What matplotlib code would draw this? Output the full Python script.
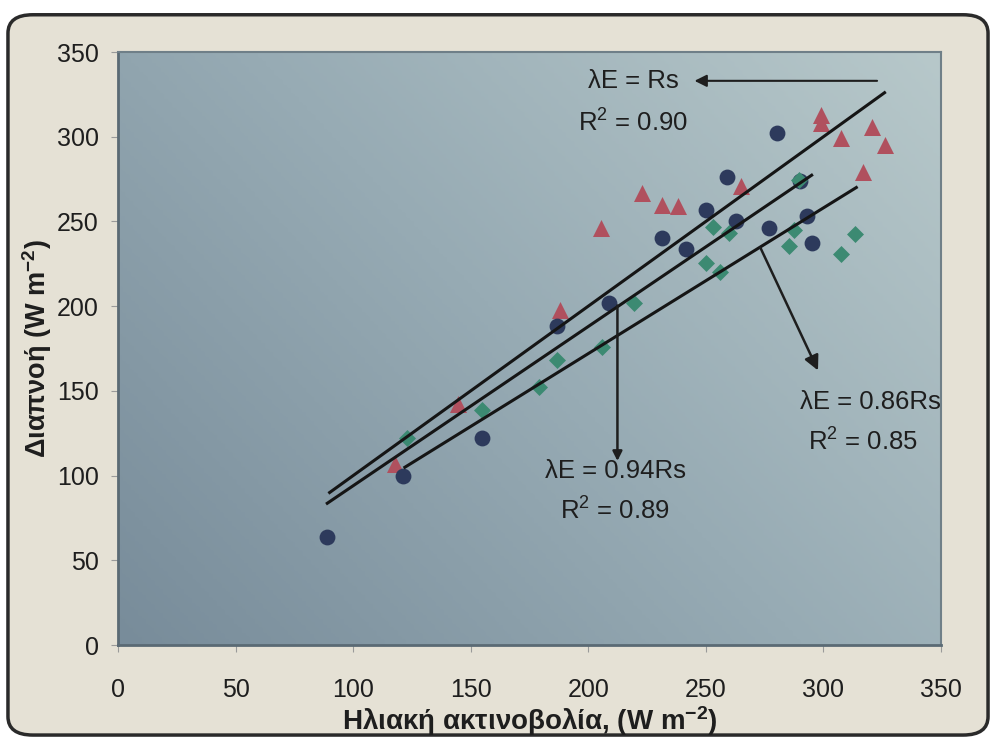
import matplotlib.pyplot as plt
import numpy as np
from matplotlib.colors import LinearSegmentedColormap
from matplotlib.patches import FancyBboxPatch

plt.rcParams['font.family'] = ['Liberation Sans', 'DejaVu Sans']
plt.rcParams['mathtext.fontset'] = 'custom'
plt.rcParams['mathtext.rm'] = 'Liberation Sans'
plt.rcParams['mathtext.it'] = 'Liberation Sans'
plt.rcParams['mathtext.bf'] = 'Liberation Sans:bold'

# circles (dark blue)
circ_x = [89, 121, 154.6, 186.5, 209, 231.5, 241.7, 250, 259, 263, 277, 280.3, 290, 293, 295]
circ_y = [64, 100, 122, 188, 202, 240, 234, 257, 276, 250, 246, 302, 274, 253, 237]
# triangles (red)
tri_x = [117.7, 144.5, 187.8, 205.5, 223, 231.5, 238, 265, 299, 299, 307.5, 317, 320.7, 326]
tri_y = [107, 142, 198, 246, 267, 260, 259, 271, 313, 308, 299, 279, 306, 295]
# diamonds (green)
dia_x = [122.7, 154.6, 179, 186.5, 206, 219.6, 250, 253, 256, 260, 285.5, 287.6, 289.7, 307.5, 313.5]
dia_y = [122, 139, 152, 168, 176, 202, 225.5, 247, 220, 243, 235.5, 245, 274.5, 231, 242.6]

# regression lines lambdaE = k * Rs
slopes = [1.0, 0.94, 0.86]
x_start = [90, 89, 122]
x_end = [326, 295, 314]

ticks = [0, 50, 100, 150, 200, 250, 300, 350]

fig = plt.figure(figsize=(9.95, 7.38), dpi=100)
fig.patch.set_facecolor('white')
frame = FancyBboxPatch((0.008, 0.004), 0.985, 0.976, boxstyle='round,pad=0,rounding_size=0.025',
                       transform=fig.transFigure, facecolor='#e5e1d5', edgecolor='#2a2a2a',
                       linewidth=2.5, zorder=-10)
fig.patches.append(frame)

ax = fig.add_axes([0.1186, 0.126, 0.8271, 0.8035])
ax.set_facecolor('#9aaeb6')

# background gradient of the plot area
u = np.linspace(0, 1, 200)
v = np.linspace(0, 1, 200)
U, V = np.meshgrid(u, v)
G = np.clip(0.4 * V + 0.6 * U, 0, 1)
cmap = LinearSegmentedColormap.from_list('bg', ['#788c9a', '#97abb4', '#b7c8ca'])
ax.imshow(G, extent=[0, 350, 0, 350], origin='lower', aspect='auto', cmap=cmap, zorder=0)

ax.scatter(tri_x, tri_y, marker='^', s=150, color='#b0505e', zorder=2, linewidths=0)
ax.scatter(circ_x, circ_y, marker='o', s=130, color='#2d3a5c', zorder=2, linewidths=0)
ax.scatter(dia_x, dia_y, marker='D', s=75, color='#3c8a72', zorder=2, linewidths=0)

for k, x0, x1 in zip(slopes, x_start, x_end):
    xs = np.array([x0, x1])
    ax.plot(xs, k * xs, color='#151515', linewidth=2.2, zorder=3)

fs = 18.5
tc = '#1e1e1e'
ax.text(219, 333, r'λE = Rs', ha='center', va='center', fontsize=fs, color=tc)
ax.text(219, 308, r'R$^2$ = 0.90', ha='center', va='center', fontsize=fs, color=tc)
ax.annotate('', xy=(244, 333), xytext=(324, 333),
            arrowprops=dict(arrowstyle='-|>', color=tc, lw=1.5, mutation_scale=18))

ax.text(211.5, 103, r'λE = 0.94Rs', ha='center', va='center', fontsize=fs, color=tc)
ax.text(211.5, 79, r'R$^2$ = 0.89', ha='center', va='center', fontsize=fs, color=tc)
ax.annotate('', xy=(212.4, 107), xytext=(212.4, 202),
            arrowprops=dict(arrowstyle='-|>', color=tc, lw=1.8, mutation_scale=14))

ax.text(320, 143.5, r'λE = 0.86Rs', ha='center', va='center', fontsize=fs, color=tc,
        clip_on=True)
ax.text(317, 120, r'R$^2$ = 0.85', ha='center', va='center', fontsize=fs, color=tc)
ax.annotate('', xy=(298.2, 160.6), xytext=(272.7, 236),
            arrowprops=dict(arrowstyle='-|>', color=tc, lw=1.8, mutation_scale=22))

ax.set_xlim(0, 350)
ax.set_ylim(0, 350)
ax.set_xticks(ticks)
ax.set_yticks(ticks)
ax.tick_params(labelsize=18, colors='#9a9a9a', labelcolor=tc, length=5)
ax.tick_params(axis='x', pad=19)
ax.tick_params(axis='y', pad=9)
for s in ['top', 'right']:
    ax.spines[s].set_color('#6f7f88')
    ax.spines[s].set_linewidth(1.5)
for s in ['left', 'bottom']:
    ax.spines[s].set_color('#5a6a74')
    ax.spines[s].set_linewidth(2)

ax.set_xlabel('Ηλιακή ακτινοβολία, (W m$^{\\mathbf{-2}}$)', fontsize=20, fontweight='bold',
              family=['Liberation Sans Narrow', 'Liberation Sans'], color=tc, labelpad=1)
ax.set_ylabel('Διαπνοή (W m$^{\\mathbf{-2}}$)', fontsize=19.5, fontweight='bold',
              color=tc, labelpad=2)

fig.savefig('out.png', dpi=100, facecolor=fig.get_facecolor())
